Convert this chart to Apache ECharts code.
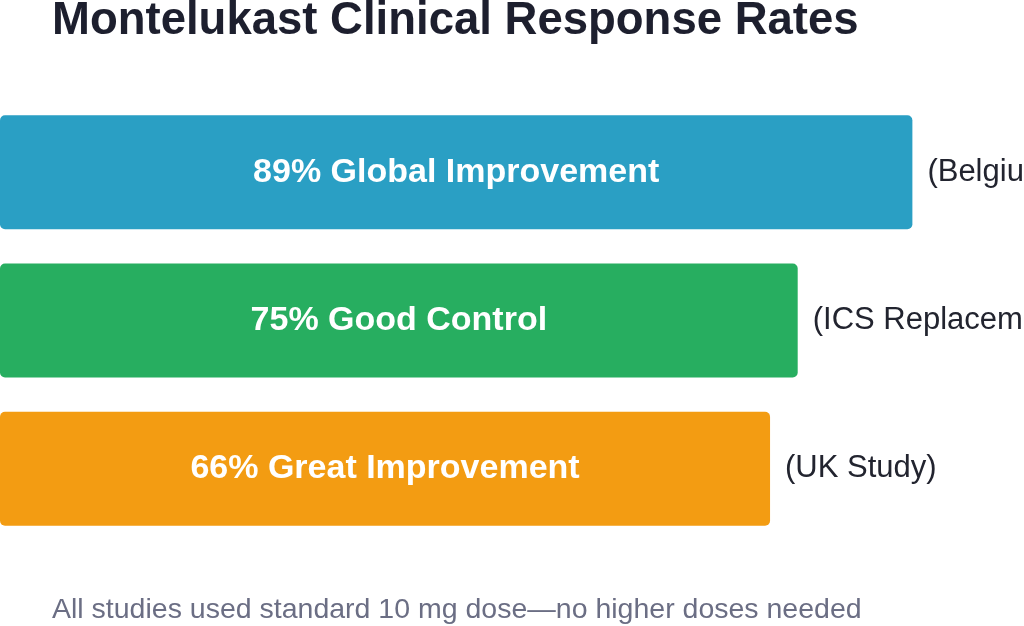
<!DOCTYPE html>
<html lang="en">
<head>
    <meta charset="UTF-8">
    <title>Montelukast Clinical Response Rates</title>
    <script src="https://cdn.jsdelivr.net/npm/echarts@6/dist/echarts.min.js"></script>
    <style>
        html, body { margin: 0; padding: 0; background: #ffffff; }
    </style>
</head>
<body>
<div id="main" style="width: 1024px;height:626px;"></div>
<script>
    // 数据
    var outcomes = ['89% Global Improvement', '75% Good Control', '66% Great Improvement'];
    var studies = ['(Belgium)', '(ICS Replacement)', '(UK Study)'];
    var barLengths = [89.1, 77.9, 75.2];   // bar length as drawn, on a 0-100 scale
    var barColors = ['#2a9fc4', '#27ae60', '#f39c12'];

    var myChart = echarts.init(document.getElementById('main'));

    var option = {
        backgroundColor: '#ffffff',
        textStyle: { fontFamily: 'Liberation Sans, Arial, sans-serif' },
        title: [
            {
                text: 'Montelukast Clinical Response Rates',
                left: 52,
                top: -2,
                padding: 0,
                textStyle: { color: '#1d1f2e', fontSize: 45.5, fontWeight: 'bold' }
            },
            {
                text: 'All studies used standard 10 mg dose\u2014no higher doses needed',
                left: 52,
                top: 596,
                padding: 0,
                textStyle: { color: '#6b6e84', fontSize: 28.5, fontWeight: 'normal' }
            }
        ],
        grid: { left: 0, right: 0, top: 98, height: 445, containLabel: false },
        xAxis: {
            type: 'value',
            min: 0,
            max: 100,
            show: false
        },
        yAxis: {
            type: 'category',
            data: outcomes,
            inverse: true,
            show: false
        },
        series: [
            {
                type: 'bar',
                barWidth: 114,
                data: barLengths.map(function (v, i) {
                    return { value: v, itemStyle: { color: barColors[i] } };
                }),
                itemStyle: { borderRadius: 5 },
                label: {
                    show: true,
                    position: 'inside',
                    formatter: function (p) { return outcomes[p.dataIndex]; },
                    color: '#ffffff',
                    fontSize: 34,
                    fontWeight: 'bold'
                },
                silent: true
            },
            {
                type: 'bar',
                barWidth: 114,
                barGap: '-100%',
                data: barLengths,
                itemStyle: { color: 'rgba(0,0,0,0)' },
                label: {
                    show: true,
                    position: 'right',
                    distance: 15,
                    formatter: function (p) { return studies[p.dataIndex]; },
                    color: '#22242f',
                    fontSize: 31
                },
                silent: true
            }
        ]
    };

    myChart.setOption(option);
</script>
</body>
</html>
